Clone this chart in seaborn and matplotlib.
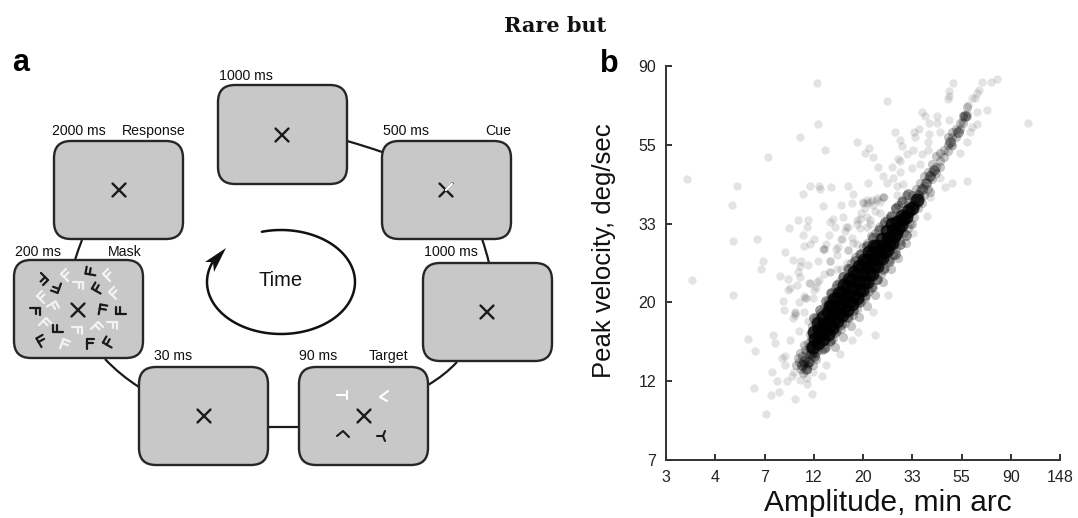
import numpy as np
import seaborn as sns
import matplotlib.pyplot as plt
from matplotlib.patches import FancyBboxPatch, PathPatch, Polygon
from matplotlib.path import Path

#------------------------------------------------------------------------------#
# Panel b values are natural logs: the axis ticks are exp(1), exp(1.5) ...
#------------------------------------------------------------------------------#
x_ticks  = [1, 1.5, 2, 2.5, 3, 3.5, 4, 4.5, 5]
x_labels = ['3', '4', '7', '12', '20', '33', '55', '90', '148']
y_ticks  = [2, 2.5, 3, 3.5, 4, 4.5]
y_labels = ['7', '12', '20', '33', '55', '90']

# isolated faint saccades
sparse_amp = [2.53, 3.24, 2.54, 2.36, 2.94, 2.61, 3.06, 3.02, 2.04, 3.10,
              3.15, 1.21, 1.72, 2.46, 2.55, 2.56, 2.68, 2.85, 3.05, 2.39,
              1.67, 2.59, 2.90, 2.89, 3.04, 3.09, 3.14, 3.20, 2.70, 2.80,
              2.94, 3.04, 2.34, 2.44, 2.25, 2.43, 2.72, 2.85, 2.97, 3.07,
              2.39, 2.65, 2.79, 2.89, 1.68, 1.92, 2.40, 2.59, 2.21, 2.85,
              2.75, 2.67, 2.29, 2.37, 1.98, 1.96, 2.44, 2.54, 2.34, 2.16,
              2.24, 1.26, 2.53, 2.45, 2.66, 2.74, 2.84, 1.68, 2.24, 2.33,
              2.19, 2.49, 2.42, 2.35, 2.20, 2.40, 2.31, 2.29, 2.44, 2.35,
              1.83, 2.09, 2.11, 2.26, 1.90, 2.18, 2.21, 2.21, 2.08, 2.30,
              2.13, 2.23, 2.28, 2.36, 2.43, 2.43, 2.58, 2.62, 2.49, 1.89,
              2.07, 2.15, 2.31, 2.48, 2.02, 3.12, 2.77, 3.10, 2.89, 2.95,
              3.25, 4.68, 4.36, 4.30, 4.21, 4.18, 4.14, 4.11, 4.16, 3.91,
              3.87, 3.87, 3.86, 4.26, 4.16, 4.07, 4.06, 4.02, 4.00, 4.16,
              4.09, 4.11, 3.60, 3.63, 3.67, 3.75, 3.75, 3.87, 3.57, 3.52,
              3.32, 3.67, 3.78, 3.38, 3.53, 3.66, 3.40, 3.51, 3.66, 3.45,
              3.60, 3.36, 3.38, 3.29, 3.38, 3.50, 3.58, 3.20, 3.30, 3.24,
              3.35, 3.41, 3.35, 3.20, 3.17, 4.06, 3.90, 3.83, 3.65, 3.51,
              3.68, 3.78, 3.98, 3.90, 4.06, 3.00, 3.02, 2.98, 2.78, 2.66,
              2.62, 2.50, 2.46, 2.74, 2.82, 2.60, 2.52, 2.36, 2.90, 3.12,
              3.07, 3.00, 3.14, 3.21, 3.10, 3.04, 2.97, 3.04, 2.94, 2.83,
              2.78, 2.60, 2.60, 2.85, 2.73, 2.66, 2.55, 2.41, 2.31, 2.26,
              2.78, 2.94, 3.07, 3.17, 2.66, 2.46, 2.36, 2.50, 2.40, 2.31]
sparse_vel = [4.39, 4.28, 4.13, 4.05, 4.02, 3.97, 3.98, 3.95, 3.92, 3.92,
              3.86, 3.78, 3.74, 3.74, 3.74, 3.72, 3.73, 3.74, 3.76, 3.69,
              3.62, 3.61, 3.69, 3.63, 3.63, 3.65, 3.65, 3.67, 3.53, 3.54,
              3.52, 3.54, 3.52, 3.52, 3.47, 3.48, 3.48, 3.48, 3.47, 3.50,
              3.43, 3.43, 3.40, 3.41, 3.39, 3.40, 3.36, 3.34, 3.32, 3.33,
              3.35, 3.26, 3.27, 3.26, 3.26, 3.21, 3.24, 3.26, 3.19, 3.17,
              3.15, 3.14, 3.13, 3.12, 3.19, 3.21, 3.25, 3.05, 3.08, 3.11,
              3.01, 3.03, 3.03, 3.00, 2.95, 2.94, 2.93, 2.90, 2.88, 2.82,
              2.77, 2.79, 2.74, 2.76, 2.69, 2.65, 2.66, 2.60, 2.56, 2.56,
              2.50, 2.50, 2.53, 2.51, 2.52, 2.48, 2.53, 2.60, 2.56, 2.46,
              2.41, 2.43, 2.39, 2.42, 2.29, 2.79, 2.67, 2.94, 2.76, 2.81,
              3.05, 4.14, 4.42, 4.40, 4.40, 4.35, 4.30, 4.30, 4.33, 4.39,
              4.34, 4.31, 4.29, 4.22, 4.21, 4.25, 4.20, 4.19, 4.15, 4.13,
              4.08, 4.11, 4.21, 4.18, 4.14, 4.18, 4.14, 4.16, 4.10, 4.08,
              4.08, 4.07, 4.08, 4.03, 4.05, 4.02, 3.99, 3.97, 3.97, 3.94,
              3.94, 3.91, 3.90, 3.86, 3.83, 3.85, 3.88, 3.80, 3.79, 3.76,
              3.74, 3.75, 3.68, 3.67, 3.64, 3.77, 3.76, 3.73, 3.55, 3.44,
              3.67, 3.79, 3.95, 3.99, 4.02, 3.64, 3.60, 3.57, 3.62, 3.51,
              3.37, 3.40, 3.37, 3.30, 3.45, 3.18, 3.10, 3.16, 3.38, 3.58,
              3.64, 3.63, 3.66, 3.67, 3.62, 3.65, 3.53, 3.48, 3.50, 3.48,
              3.40, 3.34, 3.34, 3.33, 3.34, 3.26, 3.14, 3.03, 2.92, 3.09,
              3.21, 3.37, 3.52, 3.57, 3.19, 3.12, 3.23, 3.08, 3.04, 2.94]

# soft halo and the thinner upper part of the main sequence
halo_amp = [2.32, 2.35, 2.37, 2.38, 2.40, 2.41, 2.42, 2.43, 2.44, 2.45,
            2.46, 2.47, 2.47, 2.48, 2.39, 2.44, 2.42, 2.36, 2.34, 2.49,
            2.50, 2.52, 2.46, 2.54, 2.40, 2.48, 2.50, 2.52,
            2.58, 2.62, 2.66, 2.70, 2.74, 2.78, 2.82, 2.86, 2.90, 2.94,
            2.98, 3.02, 3.06, 3.10, 3.14, 3.18, 3.22, 3.26, 3.30, 3.34,
            3.38, 3.42, 3.46, 3.50, 2.72, 2.80, 2.88, 2.96, 3.04, 3.12,
            3.20, 3.28, 3.36, 3.44,
            2.48, 2.52, 2.56, 2.60, 2.64, 2.68, 2.72, 2.76, 2.80, 2.84,
            2.88, 2.92, 2.96, 3.00, 3.04, 3.08, 3.12, 3.16, 3.20, 3.24,
            3.28, 3.32, 3.36, 3.40, 3.44,
            3.46, 3.46, 3.46, 3.50, 3.50, 3.50, 3.54, 3.54, 3.54, 3.58,
            3.58, 3.58, 3.62, 3.62, 3.62, 3.66, 3.66, 3.66, 3.70, 3.70,
            3.70, 3.74, 3.74, 3.74, 3.78, 3.78, 3.78, 3.82, 3.82, 3.86,
            3.86, 3.86, 3.90, 3.90, 3.90, 3.94, 3.94, 3.98, 3.98, 4.02,
            4.02, 4.06, 4.06, 3.56, 3.52, 3.48, 3.60, 3.68]
halo_vel = [2.60, 2.62, 2.58, 2.66, 2.61, 2.70, 2.64, 2.58, 2.74, 2.67,
            2.62, 2.71, 2.77, 2.66, 2.55, 2.60, 2.68, 2.68, 2.65, 2.60,
            2.68, 2.64, 2.80, 2.70, 2.73, 2.73, 2.74, 2.68,
            2.70, 2.72, 2.75, 2.77, 2.82, 2.83, 2.87, 2.90, 2.92, 2.96,
            3.00, 3.03, 3.07, 3.10, 3.14, 3.18, 3.22, 3.27, 3.30, 3.34,
            3.39, 3.44, 3.47, 3.50, 2.72, 2.78, 2.85, 2.91, 2.98, 3.05,
            3.13, 3.21, 3.28, 3.38,
            2.85, 2.90, 2.93, 2.97, 3.01, 3.06, 3.09, 3.13, 3.17, 3.22,
            3.25, 3.29, 3.31, 3.35, 3.38, 3.42, 3.44, 3.48, 3.50, 3.53,
            3.55, 3.60, 3.62, 3.65, 3.68,
            3.55, 3.60, 3.63, 3.58, 3.64, 3.68, 3.62, 3.66, 3.72, 3.66,
            3.71, 3.76, 3.68, 3.74, 3.80, 3.72, 3.78, 3.83, 3.78, 3.83,
            3.88, 3.82, 3.86, 3.93, 3.86, 3.90, 3.95, 3.92, 3.97, 3.96,
            4.00, 4.05, 4.00, 4.05, 4.08, 4.05, 4.10, 4.10, 4.14, 4.14,
            4.18, 4.18, 4.24, 3.60, 3.54, 3.50, 3.63, 3.70]

# grey rim of the black centre
rim_amp = [2.60, 2.66, 2.72, 2.78, 2.84, 2.90, 2.96, 3.02, 3.08, 3.14,
           3.20, 3.26, 3.32, 3.38, 3.44,
           2.50, 2.56, 2.62, 2.68, 2.74, 2.80, 2.86, 2.92, 2.98, 3.04,
           3.10, 3.16, 3.22, 3.28, 3.34, 3.40, 3.46,
           2.44, 2.47, 2.50, 2.40, 2.42, 2.46, 2.38,
           3.52, 3.56, 3.60, 3.64, 3.68, 3.72, 3.88, 3.96, 4.04]
rim_vel = [2.71, 2.76, 2.81, 2.86, 2.91, 2.95, 3.00, 3.05, 3.10, 3.15,
           3.21, 3.26, 3.31, 3.37, 3.43,
           2.90, 2.95, 3.01, 3.06, 3.11, 3.16, 3.21, 3.26, 3.31, 3.36,
           3.41, 3.46, 3.51, 3.55, 3.60, 3.64, 3.69,
           2.62, 2.68, 2.66, 2.63, 2.58, 2.72, 2.60,
           3.62, 3.68, 3.72, 3.76, 3.80, 3.84, 4.02, 4.08, 4.18]

# black centre of the main sequence
core_amp = [2.49, 2.51, 2.50,
            2.54, 2.56, 2.55, 2.54,
            2.59, 2.61, 2.60, 2.59,
            2.64, 2.66, 2.65, 2.64, 2.66,
            2.69, 2.71, 2.70, 2.69, 2.71,
            2.74, 2.76, 2.75, 2.74, 2.76,
            2.79, 2.81, 2.80, 2.79, 2.81,
            2.84, 2.86, 2.85, 2.84, 2.86,
            2.89, 2.91, 2.90, 2.89, 2.91,
            2.94, 2.96, 2.95, 2.94, 2.96,
            2.99, 3.01, 3.00, 2.99, 3.01,
            3.04, 3.06, 3.05, 3.04, 3.06,
            3.09, 3.11, 3.10, 3.09, 3.11,
            3.14, 3.16, 3.15, 3.14,
            3.19, 3.21, 3.20, 3.19,
            3.24, 3.26, 3.25, 3.24,
            3.29, 3.31, 3.30, 3.29,
            3.34, 3.36, 3.35,
            3.39, 3.41, 3.40,
            3.44, 3.46, 3.50, 3.55]
core_vel = [2.72, 2.77, 2.81,
            2.74, 2.79, 2.83, 2.87,
            2.77, 2.82, 2.86, 2.91,
            2.80, 2.85, 2.89, 2.94, 2.98,
            2.84, 2.89, 2.93, 2.98, 3.02,
            2.88, 2.93, 2.97, 3.02, 3.06,
            2.92, 2.97, 3.02, 3.06, 3.11,
            2.95, 3.00, 3.05, 3.10, 3.15,
            2.99, 3.04, 3.09, 3.14, 3.19,
            3.03, 3.08, 3.13, 3.18, 3.23,
            3.08, 3.13, 3.18, 3.23, 3.27,
            3.13, 3.18, 3.23, 3.27, 3.32,
            3.18, 3.23, 3.27, 3.31, 3.36,
            3.23, 3.28, 3.32, 3.36,
            3.28, 3.32, 3.36, 3.40,
            3.33, 3.37, 3.41, 3.45,
            3.38, 3.42, 3.46, 3.50,
            3.44, 3.47, 3.51,
            3.49, 3.53, 3.55,
            3.54, 3.58, 3.60, 3.65]

# Panel a, laid out in picture pixels
boxes = [(218, 85, 129, 99), (382, 141, 129, 98), (423, 263, 129, 98),
         (299, 367, 129, 98), (139, 367, 129, 98), (14, 260, 129, 98),
         (54, 141, 129, 98)]
crosses = [(282, 135), (446, 190), (487, 312), (364, 416), (204, 416),
           (78, 310), (119, 190)]
links = [((347, 141), (365, 146), (382, 152)), ((482, 239), (486, 250), (489, 263)),
         ((457, 362), (445, 375), (428, 385)), ((268, 427), (284, 427), (300, 427)),
         ((105, 359), (120, 375), (139, 387)), ((75, 260), (78, 250), (82, 240))]
times = [('1000 ms', 219, 80, 'left'), ('500 ms', 383, 135, 'left'), ('Cue', 511, 135, 'right'),
         ('1000 ms', 424, 256, 'left'), ('90 ms', 299, 360, 'left'), ('Target', 408, 360, 'right'),
         ('30 ms', 154, 360, 'left'), ('200 ms', 15, 256, 'left'), ('Mask', 142, 256, 'right'),
         ('2000 ms', 52, 135, 'left'), ('Response', 186, 135, 'right')]
black_f = [(42, 279, 135), (56, 287, 200), (91, 271, -80), (98, 288, -60), (35, 311, 90),
           (121, 310, -90), (103, 310, 10), (58, 328, -90), (42, 341, -30), (90, 344, 0),
           (109, 342, -60)]
white_f = [(67, 275, -45), (78, 285, 90), (109, 275, -45), (115, 293, -45), (43, 297, -45),
           (53, 307, 60), (45, 324, 45), (77, 330, 90), (97, 328, 45), (112, 325, 90),
           (65, 345, 20)]

#------------------------------------------------------------------------------#
def draw_cross(ax, x, y, color='#1a1a1a', arm=6.5):
    ax.plot([x-arm, x+arm], [y-arm, y+arm], color=color, lw=1.7, solid_capstyle='round')
    ax.plot([x-arm, x+arm], [y+arm, y-arm], color=color, lw=1.7, solid_capstyle='round')

def draw_f(ax, x, y, angle, color):
    # spine and two arms of a little F, turned by angle around its middle
    a = np.radians(angle)
    for seg in [((-3.5, -5), (-3.5, 5)), ((-3.5, -5), (3.5, -5)), ((-3.5, -0.8), (2.8, -0.8))]:
        xs = [x + p*np.cos(a) - q*np.sin(a) for p, q in seg]
        ys = [y + p*np.sin(a) + q*np.cos(a) for p, q in seg]
        ax.plot(xs, ys, color=color, lw=1.6)

def draw_panel_a(ax):
    for p0, p1, p2 in links:
        path = Path([p0, p1, p2], [Path.MOVETO, Path.CURVE3, Path.CURVE3])
        ax.add_patch(PathPatch(path, fc='none', ec='#1a1a1a', lw=1.6))

    for x, y, w, h in boxes:
        ax.add_patch(FancyBboxPatch((x+15, y+15), w-30, h-30, boxstyle='round,pad=15,rounding_size=17',
                                    fc='#c8c8c8', ec='#262626', lw=1.7))
    for x, y in crosses:
        draw_cross(ax, x, y)
    # cue: white arm on the cross
    ax.plot([446, 452], [190, 184], color='white', lw=1.7)

    # target letters
    ax.plot([337, 347], [395, 395], color='white', lw=1.5)
    ax.plot([347, 347], [391, 399], color='white', lw=1.5)
    ax.plot([388, 380, 387], [391, 397, 401], color='white', lw=1.5)
    ax.plot([337, 343, 349], [436, 431, 437], color='#1a1a1a', lw=1.5)
    ax.plot([385, 383, 385], [431, 436, 441], color='#1a1a1a', lw=1.5)
    ax.plot([377, 383], [436, 436], color='#1a1a1a', lw=1.5)

    for x, y, angle in black_f:
        draw_f(ax, x, y, angle, '#1a1a1a')
    for x, y, angle in white_f:
        draw_f(ax, x, y, angle, '#f2f2f2')

    for label, x, y, ha in times:
        ax.text(x, y, label, ha=ha, va='baseline', fontsize=10.2, color='#111111')

    # clockwise time arrow
    t = np.radians(np.linspace(-105, 203, 200))
    ax.plot(281 + 74*np.cos(t), 282 + 52*np.sin(t), color='#111111', lw=1.8)
    ax.add_patch(Polygon([(226, 248), (205, 262), (213, 262), (214, 272)], fc='#111111', ec='none'))
    ax.text(281, 281, 'Time', ha='center', va='center', fontsize=14.5, color='#111111')

    ax.text(21, 71, 'a', ha='center', va='baseline', fontsize=22, fontweight='bold', color='k')
    ax.text(609, 72, 'b', ha='center', va='baseline', fontsize=22, fontweight='bold', color='k')
    ax.text(555, 32, 'Rare but', ha='center', va='baseline', fontsize=15, fontweight='bold',
            family='DejaVu Serif', color='#111111')

def main():
    sns.set_style('white')
    plt.rcParams['font.family'] = ['Liberation Sans', 'DejaVu Sans']

    fig = plt.figure(figsize=(10.78, 5.18), dpi=100)

    # panel a
    ax_a = fig.add_axes([0, 0, 1, 1])
    ax_a.set_xlim(0, 1078)
    ax_a.set_ylim(518, 0)
    ax_a.axis('off')
    draw_panel_a(ax_a)

    # panel b
    ax = fig.add_axes([666/1078, 58/518, 394/1078, 394/518])
    ax.patch.set_alpha(0)
    sns.scatterplot(x=sparse_amp, y=sparse_vel, s=36, color='k', alpha=0.11, linewidth=0, ax=ax)
    sns.scatterplot(x=halo_amp, y=halo_vel, s=44, color='k', alpha=0.22, linewidth=0, ax=ax)
    sns.scatterplot(x=rim_amp, y=rim_vel, s=60, color='k', alpha=0.4, linewidth=0, ax=ax)
    sns.scatterplot(x=core_amp, y=core_vel, s=100, color='k', alpha=0.8, linewidth=0, ax=ax)

    ax.set_xlim(1, 5)
    ax.set_ylim(2, 4.5)
    ax.set_xticks(x_ticks)
    ax.set_xticklabels(x_labels)
    ax.set_yticks(y_ticks)
    ax.set_yticklabels(y_labels)
    ax.tick_params(direction='in', length=4, width=1.4, color='#333333', labelsize=11.5,
                   labelcolor='#222222', bottom=True, left=True, pad=7)
    sns.despine(ax=ax)
    for side in ['left', 'bottom']:
        ax.spines[side].set_color('#333333')
        ax.spines[side].set_linewidth(1.4)

    ax.set_xlabel('Amplitude, min arc', fontsize=21.5, color='#111111')
    ax.set_ylabel('Peak velocity, deg/sec', fontsize=18.5, color='#111111')
    ax.xaxis.set_label_coords(222/394, -43/394, transform=ax.transAxes)
    ax.xaxis.label.set_va('center')
    ax.yaxis.set_label_coords(-62/394, 209/394, transform=ax.transAxes)
    ax.yaxis.label.set_va('center')

    fig.savefig('out.png', dpi=100)

if __name__ == '__main__':
    main()
